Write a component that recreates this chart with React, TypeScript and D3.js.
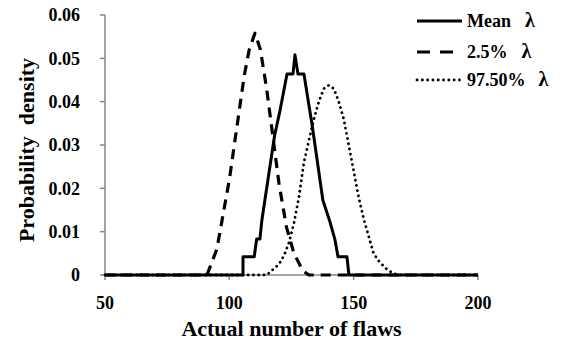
import React from "react";
import * as d3 from "d3";

// Flaw counts (x) and probability density (y)
const meanX = [50, 105.5, 105.5, 110, 111, 112.3, 113.1, 118.2, 120.4, 123.2, 125.6, 126.4, 127.6, 130, 133.4, 137.6, 140.5, 142.5, 143.7, 147.3, 148.1, 200];
const meanY = [0, 0, 0.0042, 0.0042, 0.0083, 0.0083, 0.0127, 0.0322, 0.038, 0.0464, 0.0464, 0.0508, 0.0464, 0.0464, 0.0342, 0.0173, 0.0122, 0.0081, 0.0042, 0.0042, 0, 0];

const lowX = [50, 91, 95, 100, 103, 106, 108, 110.3, 112.5, 115, 117.5, 120, 123, 126, 129.5, 132, 200];
const lowY = [0, 0, 0.006, 0.022, 0.034, 0.046, 0.052, 0.0558, 0.052, 0.043, 0.032, 0.021, 0.011, 0.005, 0.001, 0, 0];

const highX = [50, 115, 117, 120, 122, 124, 126, 128, 130, 132, 134, 136, 138, 140, 142, 144, 146, 148, 150, 152, 154, 156, 158, 160, 163, 165.5, 168, 200];
const highY = [0, 0, 0.001, 0.0025, 0.0045, 0.0075, 0.012, 0.018, 0.026, 0.031, 0.036, 0.04, 0.043, 0.0438, 0.043, 0.04, 0.036, 0.03, 0.024, 0.018, 0.013, 0.009, 0.005, 0.0033, 0.0015, 0.0005, 0, 0];

const xTicks = [50, 100, 150, 200];
const yTicks = [0, 0.01, 0.02, 0.03, 0.04, 0.05, 0.06];
const yTickLabels = ["0", "0.01", "0.02", "0.03", "0.04", "0.05", "0.06"];

const legendNames = ["Mean", "2.5%", "97.50%"];

const FONT = '"Liberation Serif", "Times New Roman", Times, serif';
const AXIS = "#868686";

export default function App() {
  const width = 566;
  const height = 354;
  const margin = { left: 105, right: 88, top: 15, bottom: 79 };

  const x = d3.scaleLinear().domain([50, 200]).range([margin.left, width - margin.right]);
  const y = d3.scaleLinear().domain([0, 0.06]).range([height - margin.bottom, margin.top]);

  const line = d3
    .line<[number, number]>()
    .x((d) => x(d[0]))
    .y((d) => y(d[1]));

  const toPts = (xs: number[], ys: number[]) => xs.map((v, i) => [v, ys[i]] as [number, number]);

  const series = [
    { pts: toPts(meanX, meanY), dash: undefined, cap: "butt", w: 3 },
    { pts: toPts(lowX, lowY), dash: "10 7", cap: "butt", w: 3.2 },
    { pts: toPts(highX, highY), dash: "0.1 5.2", cap: "round", w: 2.8 },
  ];

  const legendY = [21, 52, 80];

  return (
    <svg
      width={width}
      height={height}
      style={{ position: "absolute", left: 0, top: 0, background: "#fff", fontFamily: FONT, fontWeight: "bold" }}
    >
      {/* axes */}
      <line x1={x(50)} x2={x(200)} y1={y(0)} y2={y(0)} stroke={AXIS} strokeWidth={1.5} />
      <line x1={x(50)} x2={x(50)} y1={y(0)} y2={y(0.06)} stroke={AXIS} strokeWidth={1.5} />
      {yTicks.map((t, i) => (
        <g key={"y" + i}>
          <line x1={x(50) - 5} x2={x(50)} y1={y(t)} y2={y(t)} stroke={AXIS} strokeWidth={1.5} />
          <text x={80} y={y(t)} dy="0.35em" textAnchor="end" fontSize={18}>
            {yTickLabels[i]}
          </text>
        </g>
      ))}
      {xTicks.map((t) => (
        <g key={"x" + t}>
          <line x1={x(t)} x2={x(t)} y1={y(0)} y2={y(0) + 5} stroke={AXIS} strokeWidth={1.5} />
          <text x={x(t)} y={309} textAnchor="middle" fontSize={18}>
            {t}
          </text>
        </g>
      ))}

      {/* curves */}
      {series.map((s, i) => (
        <path
          key={i}
          d={line(s.pts) || ""}
          fill="none"
          stroke="#000"
          strokeWidth={s.w}
          strokeDasharray={s.dash}
          strokeLinecap={s.cap as any}
          strokeLinejoin="round"
        />
      ))}

      {/* axis titles */}
      <text x={(x(50) + x(200)) / 2} y={336} textAnchor="middle" fontSize={22}>
        Actual number of flaws
      </text>
      <text
        transform={`translate(34,${(y(0) + y(0.06)) / 2 + 5}) rotate(-90)`}
        textAnchor="middle"
        fontSize={22}
        style={{ whiteSpace: "pre" }}
      >
        {"Probability  density"}
      </text>

      {/* legend */}
      {legendNames.map((n, i) => (
        <g key={n}>
          <line
            x1={417}
            x2={462}
            y1={legendY[i]}
            y2={legendY[i]}
            stroke="#000"
            strokeWidth={series[i].w}
            strokeDasharray={i === 1 ? "13 10" : series[i].dash}
            strokeLinecap={series[i].cap as any}
          />
          <text x={467} y={legendY[i]} dy="0.35em" fontSize={18}>
            {n}
            <tspan dx={i === 2 ? 13 : 14} fontSize={20}>λ</tspan>
          </text>
        </g>
      ))}
    </svg>
  );
}
